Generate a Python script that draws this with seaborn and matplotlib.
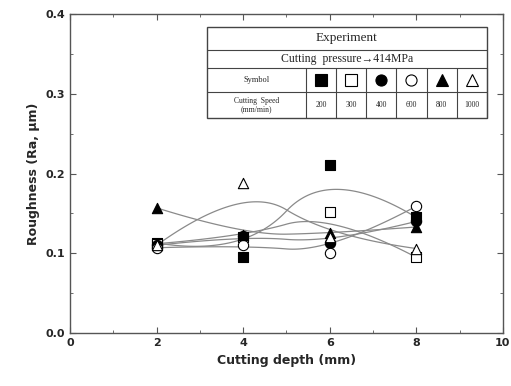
import numpy as np
import pandas as pd
import matplotlib
matplotlib.use("Agg")
import matplotlib.pyplot as plt
import seaborn as sns
from matplotlib.ticker import MultipleLocator

sns.set_style("ticks")
plt.rcParams['font.family'] = ['DejaVu Sans']

depth = [2, 4, 6, 8]
speeds = ['200', '300', '400', '600', '800', '1000']
r200 = [0.113, 0.095, 0.211, 0.145]
r300 = [0.112, 0.121, 0.152, 0.095]
r400 = [0.110, 0.122, 0.113, 0.140]
r600 = [0.107, 0.110, 0.101, 0.159]
r800 = [0.157, 0.123, 0.125, 0.133]
r1000 = [0.110, 0.188, 0.121, 0.106]

series = [r200, r300, r400, r600, r800, r1000]
markers = ['s', 's', 'o', 'o', '^', '^']
faces = ['black', 'white', 'black', 'white', 'black', 'white']


def bspline2(px, py, n=60):
    # clamped quadratic B-spline through 4 control points (knots 0,0,0,1,2,2,2)
    px, py = np.asarray(px, float), np.asarray(py, float)
    u = np.linspace(0, 1, n)
    b0, b1, b2 = (1 - u) ** 2, 2 * u - 1.5 * u ** 2, 0.5 * u ** 2
    xa = b0 * px[0] + b1 * px[1] + b2 * px[2]
    ya = b0 * py[0] + b1 * py[1] + b2 * py[2]
    c1, c2, c3 = 0.5 * (1 - u) ** 2, 0.5 + u - 1.5 * u ** 2, u ** 2
    xb = c1 * px[1] + c2 * px[2] + c3 * px[3]
    yb = c1 * py[1] + c2 * py[2] + c3 * py[3]
    return np.concatenate([xa, xb[1:]]), np.concatenate([ya, yb[1:]])


fig = plt.figure(figsize=(5.11, 3.86), dpi=100)
ax = fig.add_axes([0.137, 0.137, 0.847, 0.827])

for vals in series:
    bx, by = bspline2(depth, vals)
    curve = pd.DataFrame({'x': bx, 'y': by})
    sns.lineplot(data=curve, x='x', y='y', ax=ax, color='#8a8a8a', lw=0.9, zorder=2)

for vals, m, fc in zip(series, markers, faces):
    d = pd.DataFrame({'x': depth, 'y': vals})
    sns.scatterplot(data=d, x='x', y='y', ax=ax, marker=m, s=55,
                    color=fc, edgecolor='black', linewidth=0.8, zorder=3)

ax.set_xlim(0, 10)
ax.set_ylim(0, 0.4)
ax.xaxis.set_major_locator(MultipleLocator(2))
ax.xaxis.set_minor_locator(MultipleLocator(1))
ax.yaxis.set_major_locator(MultipleLocator(0.1))
ax.yaxis.set_minor_locator(MultipleLocator(0.05))
ax.tick_params(which='both', direction='in', top=True, right=True,
               color='#555555', labelsize=8)
ax.tick_params(which='major', length=4)
ax.tick_params(which='minor', length=2)
ax.set_xticks([0, 2, 4, 6, 8, 10])
ax.set_xticklabels(['0', '2', '4', '6', '8', '10'], fontweight='bold')
ax.set_yticks([0.0, 0.1, 0.2, 0.3, 0.4])
ax.set_yticklabels(['0.0', '0.1', '0.2', '0.3', '0.4'], fontweight='bold')
for sp in ax.spines.values():
    sp.set_color('#555555')
    sp.set_linewidth(1.0)
ax.set_xlabel('Cutting depth (mm)', fontsize=9, fontweight='bold')
ax.set_ylabel('Roughness (Ra, μm)', fontsize=9, fontweight='bold')

# table drawn in axes fraction
tr = ax.transAxes
x0, x1 = 0.316, 0.963
xc = 0.545
ys = [0.959, 0.887, 0.831, 0.755, 0.674]
colw = (x1 - xc) / 6
lc = '#444444'
ax.add_patch(plt.Rectangle((x0, ys[-1]), x1 - x0, ys[0] - ys[-1], transform=tr,
                           facecolor='white', edgecolor=lc, lw=1.0, zorder=4))
for yy in ys[1:-1]:
    ax.plot([x0, x1], [yy, yy], transform=tr, color=lc, lw=0.8, zorder=5)
for i in range(7):
    cx = xc + i * colw
    ax.plot([cx, cx], [ys[-1], ys[2]], transform=tr, color=lc, lw=0.8, zorder=5)

serif = ['Liberation Serif', 'DejaVu Serif']
ax.text((x0 + x1) / 2, (ys[0] + ys[1]) / 2, 'Experiment', transform=tr,
        ha='center', va='center', fontsize=9.5, family=serif, zorder=6)
ax.text((x0 + x1) / 2, (ys[1] + ys[2]) / 2, 'Cutting  pressure\u2192414MPa', transform=tr,
        ha='center', va='center', fontsize=8.5, family=serif, zorder=6)
ax.text((x0 + xc) / 2, (ys[2] + ys[3]) / 2, 'Symbol', transform=tr,
        ha='center', va='center', fontsize=6, family=serif, zorder=6)
ax.text((x0 + xc) / 2, (ys[3] + ys[4]) / 2, 'Cutting  Speed\n(mm/min)', transform=tr,
        ha='center', va='center', fontsize=5.5, family=serif, linespacing=1.0, zorder=6)
for i, (sp_, m, fc) in enumerate(zip(speeds, markers, faces)):
    cx = xc + (i + 0.5) * colw
    ax.plot([cx], [(ys[2] + ys[3]) / 2], transform=tr, marker=m, ms=8,
            mfc=fc, mec='black', mew=0.8, zorder=6)
    ax.text(cx, (ys[3] + ys[4]) / 2, sp_, transform=tr, ha='center', va='center',
            fontsize=5.5, family=serif, zorder=6)

fig.savefig('out.png', dpi=100)
